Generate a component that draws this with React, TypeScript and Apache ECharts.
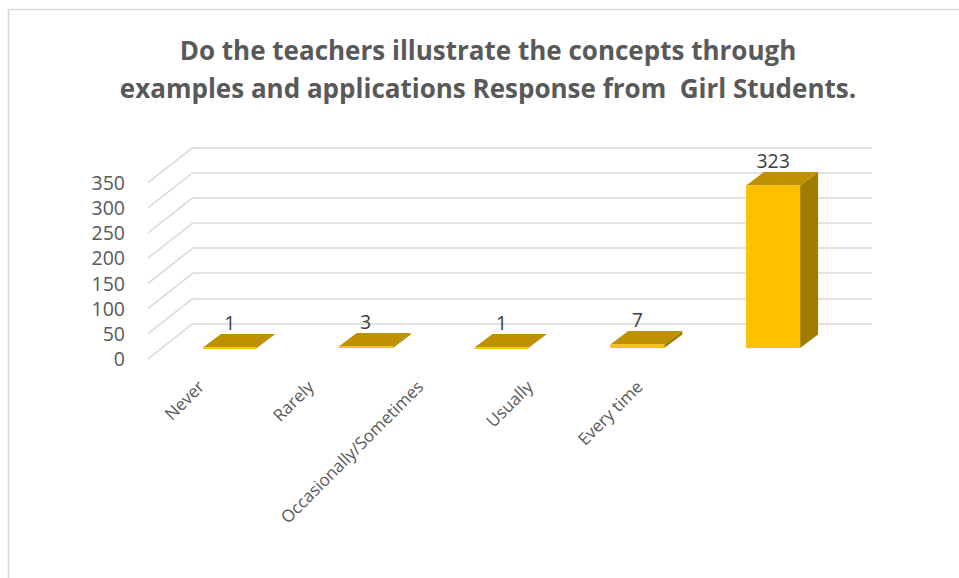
import React, { useEffect, useRef } from "react";
import * as echarts from "echarts";

const titleLines = [
  "Do the teachers illustrate the concepts through",
  "examples and applications Response from  Girl Students.",
];
const categories = ["Never", "Rarely", "Occasionally/Sometimes", "Usually", "Every time"];
const values = [1, 3, 1, 7, 323];
const yTicks = [0, 50, 100, 150, 200, 250, 300, 350];

const FONT = "'Open Sans', 'Noto Sans', sans-serif";

export default function App() {
  const ref = useRef<HTMLDivElement>(null);
  useEffect(() => {
    if (!ref.current) return;
    const chart = echarts.init(ref.current, undefined, { renderer: "svg" });
    // perspective offsets
    const frontDX = -45, frontDY = 35.3; // back wall -> front edge
    const barDX = -31, barDY = 24.5; // back wall -> bar front face
    const depthDX = 18, depthDY = -13.5; // bar depth
    const barW = 54;

    const option: any = {
      animation: false,
      backgroundColor: "#ffffff",
      graphic: [
        {
          type: "rect",
          shape: { x: 8.5, y: 9.5, width: 1200, height: 1000 },
          style: { fill: "none", stroke: "#D9D9D9", lineWidth: 1.5 },
          z: -10,
        },
        {
          type: "text",
          x: 488,
          y: 69,
          style: {
            text: titleLines.join("\n"),
            textAlign: "center",
            textVerticalAlign: "middle",
            fontFamily: FONT,
            fontWeight: "bold",
            fontSize: 26,
            lineHeight: 38,
            fill: "#595959",
          },
        },
      ],
      grid: [
        { left: 193, top: 147.3, width: 679, height: 176.2 },
        { left: 146, top: 182.7, width: 548, height: 175.6 },
      ],
      xAxis: [
        {
          gridIndex: 0,
          type: "category",
          data: categories,
          show: false,
        },
        {
          gridIndex: 1,
          type: "category",
          data: categories,
          axisLine: { show: false },
          axisTick: { show: false },
          axisLabel: {
            rotate: 45,
            margin: 25,
            interval: 0,
            fontSize: 17,
            fontFamily: FONT,
            color: "#595959",
          },
        },
      ],
      yAxis: [
        {
          gridIndex: 0,
          type: "value",
          min: 0,
          max: 350,
          interval: 50,
          axisLabel: { show: false },
          axisLine: { show: false },
          axisTick: { show: false },
          splitLine: { lineStyle: { color: "#D9D9D9", width: 1.5 } },
        },
        {
          gridIndex: 1,
          type: "value",
          min: 0,
          max: 350,
          interval: 50,
          axisLabel: {
            margin: 21,
            fontSize: 19.5,
            fontFamily: FONT,
            color: "#595959",
          },
          axisLine: { show: false },
          axisTick: { show: false },
          splitLine: { show: false },
        },
      ],
      series: [
        {
          type: "custom",
          xAxisIndex: 0,
          yAxisIndex: 0,
          data: yTicks.map((v) => [0, v]),
          encode: { x: 0, y: 1 },
          silent: true,
          z: 1,
          renderItem: (params: any, api: any) => {
            const y = api.coord([0, api.value(1)])[1];
            const x = params.coordSys.x;
            return {
              type: "line",
              shape: { x1: x, y1: y, x2: x + frontDX, y2: y + frontDY },
              style: { stroke: "#D9D9D9", lineWidth: 1.5 },
            };
          },
        },
        {
          type: "custom",
          xAxisIndex: 0,
          yAxisIndex: 0,
          data: categories.map((c, i) => [i, values[i]]),
          encode: { x: 0, y: 1 },
          z: 5,
          renderItem: (params: any, api: any) => {
            const i = api.value(0);
            const v = api.value(1);
            const base = api.coord([i, 0]);
            const top = api.coord([i, v]);
            const cx = base[0] + barDX;
            const yb = base[1] + barDY;
            const yt = top[1] + barDY;
            const x0 = cx - barW / 2;
            const x1 = cx + barW / 2;
            return {
              type: "group",
              children: [
                {
                  type: "polygon",
                  shape: {
                    points: [
                      [x1, yt],
                      [x1 + depthDX, yt + depthDY],
                      [x1 + depthDX, yb + depthDY],
                      [x1, yb],
                    ],
                  },
                  style: { fill: "#A07C00" },
                },
                {
                  type: "polygon",
                  shape: {
                    points: [
                      [x0, yt],
                      [x1, yt],
                      [x1 + depthDX, yt + depthDY],
                      [x0 + depthDX, yt + depthDY],
                    ],
                  },
                  style: { fill: "#BF9000" },
                },
                {
                  type: "rect",
                  shape: { x: x0, y: yt, width: barW, height: Math.max(yb - yt, 1.5) },
                  style: { fill: "#FFC000" },
                },
                {
                  type: "text",
                  x: cx,
                  y: yt + depthDY - 11.5,
                  style: {
                    text: String(v),
                    textAlign: "center",
                    textVerticalAlign: "middle",
                    fontFamily: FONT,
                    fontSize: 19.5,
                    fill: "#404040",
                  },
                },
              ],
            };
          },
        },
      ],
    };
    chart.setOption(option);
    return () => chart.dispose();
  }, []);
  return (
    <div
      ref={ref}
      style={{ position: "absolute", left: 0, top: 0, width: 959, height: 578 }}
    />
  );
}
